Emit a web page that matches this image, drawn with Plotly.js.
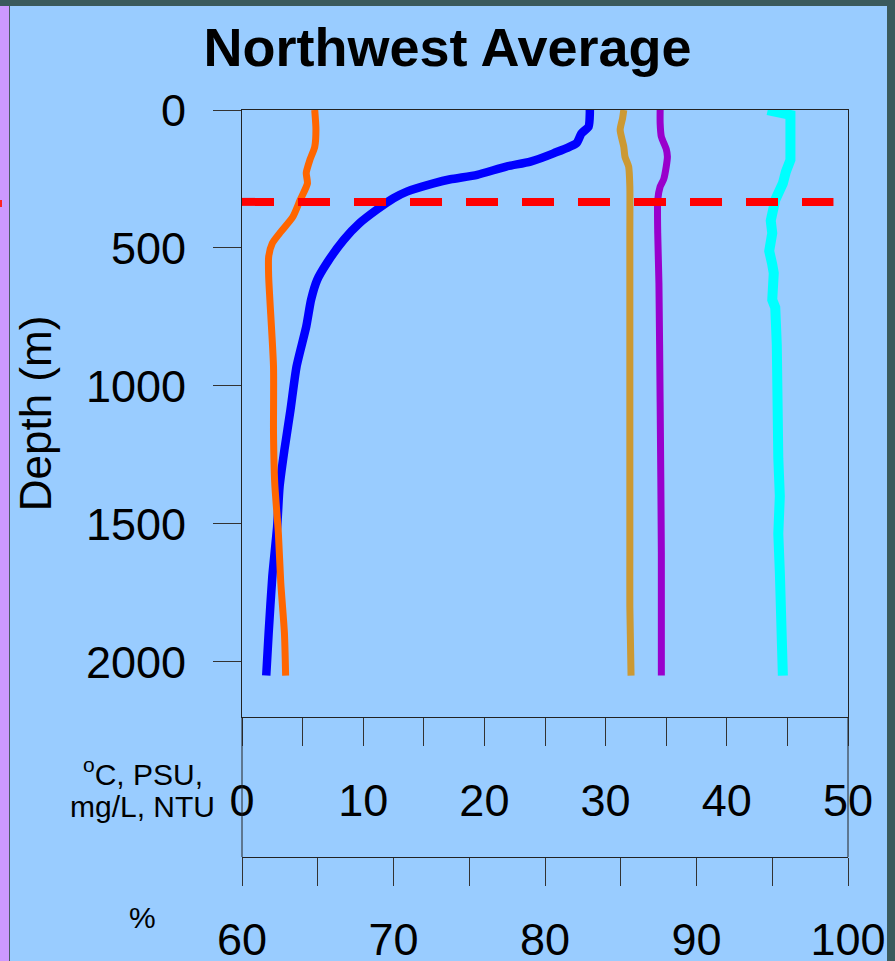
<!DOCTYPE html>
<html><head><meta charset="utf-8">
<script src="https://cdn.plot.ly/plotly-3.0.1.min.js"></script>
<style>html,body{margin:0;padding:0;background:#99ccff;overflow:hidden}#chart{width:895px;height:961px}</style>
</head><body><div id="chart"></div>
<script>
// ---- data ----
const chartTitle = "Northwest Average";
const depthTicks = [0, 500, 1000, 1500, 2000];
const unitTicks = [0, 10, 20, 30, 40, 50];
const pctTicks = [60, 70, 80, 90, 100];

// Temperature (°C) - blue
const tempDepth = [0, 10, 60, 85, 120, 157, 187, 205, 235, 251, 266, 296, 320, 362, 410, 470, 555, 616, 688, 785, 930, 1087, 1232, 1365, 1510, 1692, 1895, 2050];
const tempValue = [28.7, 28.7, 28.6, 28.0, 27.6, 25.7, 23.8, 21.8, 19.4, 17.2, 15.8, 13.6, 12.5, 11.1, 9.7, 8.4, 7.0, 6.2, 5.7, 5.3, 4.5, 4.0, 3.5, 3.1, 2.9, 2.5, 2.2, 2.0];

// Dissolved oxygen (mg/L) - orange
const oxyDepth = [0, 70, 134, 181, 228, 266, 326, 387, 447, 483, 532, 604, 688, 930, 1172, 1352, 1533, 1714, 1895, 2050];
const oxyValue = [6.0, 6.1, 6.0, 5.6, 5.3, 5.4, 4.8, 4.2, 3.1, 2.5, 2.2, 2.2, 2.3, 2.6, 2.6, 2.7, 3.0, 3.2, 3.5, 3.6];

// Gold series
const goldDepth = [0, 30, 72, 133, 170, 205, 278, 450, 676, 1000, 1300, 1600, 1800, 2050];
const goldValue = [31.5, 31.4, 31.2, 31.5, 31.6, 31.9, 32.0, 32.0, 32.0, 32.0, 32.0, 32.0, 32.0, 32.1];

// Salinity (PSU) - purple
const purpDepth = [0, 48, 97, 141, 169, 206, 250, 278, 326, 446, 627, 1058, 1605, 2050];
const purpValue = [34.5, 34.5, 34.6, 35.0, 35.1, 35.0, 34.8, 34.5, 34.3, 34.3, 34.4, 34.5, 34.6, 34.6];

// Percent series (%) - cyan, on the 60-100 axis
const cyanDepth = [0, 8, 18, 83, 181, 224, 266, 326, 401, 446, 511, 560, 591, 688, 716, 852, 989, 1126, 1263, 1399, 1536, 1673, 1809, 1946, 2050];
const cyanValue = [94.7, 96.0, 96.2, 96.2, 96.2, 95.9, 95.7, 95.2, 94.9, 95.0, 94.8, 95.0, 95.1, 95.0, 95.2, 95.3, 95.3, 95.3, 95.4, 95.5, 95.4, 95.5, 95.6, 95.7, 95.7];

// Reference (dashed) depth
const refDepth = 333;
const refExtent = [0, 48.8];

// ---- layout helpers (pixel -> paper) ----
const L = 242, R = 848, T = 110, B = 900;
const px = x => (x - L) / (R - L);
const py = y => (B - y) / (B - T);
const FONT = "Liberation Sans, Arial, sans-serif";
const dark = "#3b5a5c";

const traces = [
  {x: tempValue, y: tempDepth, mode: "lines", line: {color: "#0000ff", width: 8.5, shape: "spline", smoothing: 0.6}, xaxis: "x", yaxis: "y"},
  {x: oxyValue, y: oxyDepth, mode: "lines", line: {color: "#ff6600", width: 7, shape: "spline", smoothing: 0.6}, xaxis: "x", yaxis: "y"},
  {x: goldValue, y: goldDepth, mode: "lines", line: {color: "#cc9933", width: 7, shape: "spline", smoothing: 0.6}, xaxis: "x", yaxis: "y"},
  {x: purpValue, y: purpDepth, mode: "lines", line: {color: "#9900cc", width: 7, shape: "spline", smoothing: 0.6}, xaxis: "x", yaxis: "y"},
  {x: cyanValue, y: cyanDepth, mode: "lines", line: {color: "#00ffff", width: 10}, xaxis: "x2", yaxis: "y"}
];

const tickFont = {family: FONT, size: 45, color: "#000"};
const yDomBottom = py(717);
const x2Pos = py(857);

const layout = {
  width: 895, height: 961,
  margin: {l: L, r: 895 - R, t: T, b: 961 - B, pad: 0},
  paper_bgcolor: "#99ccff", plot_bgcolor: "#99ccff",
  showlegend: false,
  title: {text: "<b>" + chartTitle + "</b>", font: {family: FONT, size: 54, color: "#000"},
          x: 0.5, xref: "container", xanchor: "center", y: 1 - 47.5 / 961, yref: "container", yanchor: "middle"},
  yaxis: {domain: [yDomBottom, 1], range: [2200, 0], tickvals: depthTicks, ticks: "outside", ticklen: 28,
          tickwidth: 1, tickcolor: "#333", showline: true, mirror: true, linecolor: "#222", linewidth: 1,
          showgrid: false, zeroline: false, tickfont: tickFont, ticklabelstandoff: 18,
          title: {text: "Depth (m)", font: {family: FONT, size: 44, color: "#000"}, standoff: 20}},
  xaxis: {domain: [0, 1], anchor: "y", range: [0, 50], tickvals: unitTicks, ticks: "outside", ticklen: 28,
          tickwidth: 1, tickcolor: "#333", showline: true, mirror: true, linecolor: "#222", linewidth: 1,
          showgrid: false, zeroline: false, tickfont: tickFont, ticklabelstandoff: 16,
          minor: {dtick: 5, tick0: 0, ticks: "outside", ticklen: 28, tickwidth: 1, tickcolor: "#333", showgrid: false}},
  xaxis2: {overlaying: "x", anchor: "free", position: x2Pos, side: "bottom", range: [60, 100], tickvals: pctTicks,
           ticks: "outside", ticklen: 28, tickwidth: 1, tickcolor: "#333", showline: true, linecolor: "#222", linewidth: 1,
           showgrid: false, zeroline: false, tickfont: tickFont, ticklabelstandoff: 15,
           minor: {dtick: 5, tick0: 60, ticks: "outside", ticklen: 28, tickwidth: 1, tickcolor: "#333", showgrid: false}},
  shapes: [
    // frame between the two horizontal axes
    {type: "line", xref: "paper", yref: "paper", x0: 0, x1: 0, y0: x2Pos, y1: yDomBottom, line: {color: "#222", width: 1}},
    {type: "line", xref: "paper", yref: "paper", x0: 1, x1: 1, y0: x2Pos, y1: yDomBottom, line: {color: "#222", width: 1}},
    // slide edges
    {type: "rect", xref: "paper", yref: "paper", x0: px(0), x1: px(9), y0: py(961), y1: py(0), fillcolor: "#cc99ff", line: {width: 0}, layer: "below"},
    {type: "line", xref: "paper", yref: "paper", x0: px(9.5), x1: px(9.5), y0: py(961), y1: py(0), line: {color: "#4a5a66", width: 1}},
    {type: "rect", xref: "paper", yref: "paper", x0: px(0), x1: px(2), y0: py(207), y1: py(200), fillcolor: "#ff2222", line: {width: 0}},
    {type: "rect", xref: "paper", yref: "paper", x0: px(887), x1: px(896), y0: py(962), y1: py(0), fillcolor: dark, line: {width: 0}},
    {type: "rect", xref: "paper", yref: "paper", x0: px(-1), x1: px(896), y0: py(6), y1: py(-1), fillcolor: dark, line: {width: 0}},
    // reference depth dashed line
    {type: "line", xref: "x", yref: "y", x0: refExtent[0], x1: refExtent[1], y0: refDepth, y1: refDepth,
     line: {color: "#ff0000", width: 8, dash: "32px,24px"}, layer: "above"}
  ],
  annotations: [
    {text: "<sup>o</sup>C, PSU,", xref: "paper", yref: "paper", x: px(143), y: py(772), xanchor: "center", yanchor: "middle",
     showarrow: false, font: {family: FONT, size: 30, color: "#000"}},
    {text: "mg/L, NTU", xref: "paper", yref: "paper", x: px(142), y: py(806), xanchor: "center", yanchor: "middle",
     showarrow: false, font: {family: FONT, size: 30, color: "#000"}},
    {text: "%", xref: "paper", yref: "paper", x: px(142), y: py(918), xanchor: "center", yanchor: "middle",
     showarrow: false, font: {family: FONT, size: 30, color: "#000"}}
  ]
};

Plotly.newPlot("chart", traces, layout, {displayModeBar: false, staticPlot: true});
</script>
</body></html>
